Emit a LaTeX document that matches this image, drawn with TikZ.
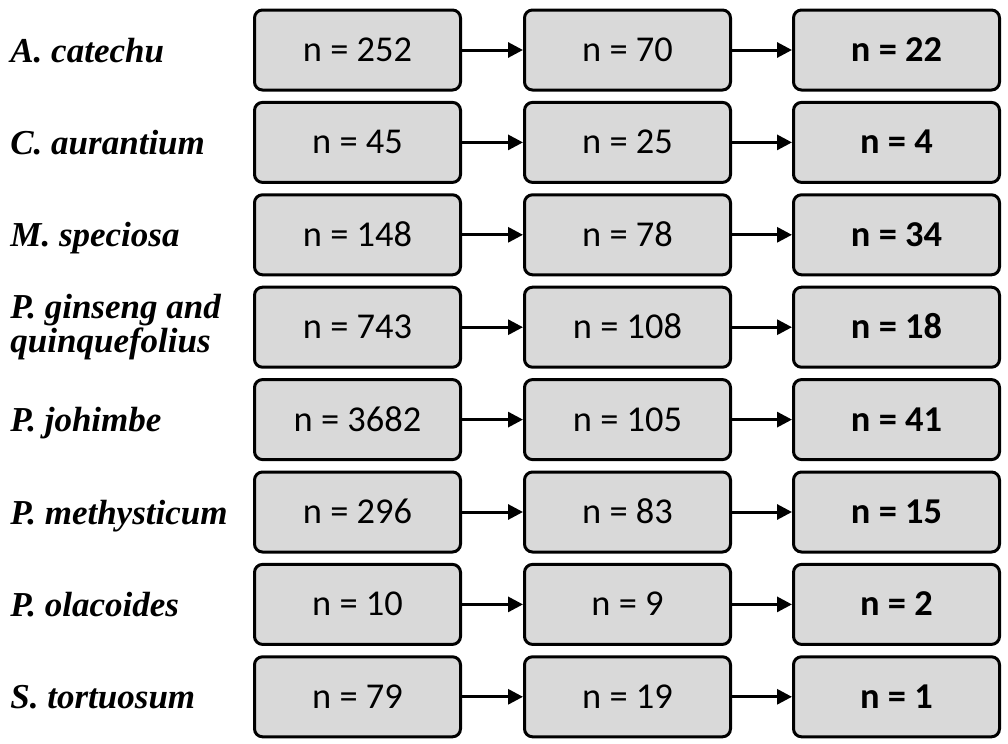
\documentclass[tikz,border=0pt]{standalone}
\usepackage{fontspec}
\setmainfont{Carlito}
\newfontfamily\labelfont{Liberation Serif}
\usepackage{xcolor}
\usetikzlibrary{arrows.meta,positioning}

\definecolor{boxgray}{HTML}{D9D9D9}

\tikzset{
  countbox/.style={draw, line width=1.5pt, rounded corners=4pt, fill=boxgray,
    minimum width=103pt, minimum height=40pt, inner sep=0pt,
    text height=11.5pt, text depth=0pt,
    font=\fontsize{18.2}{20}\selectfont},
  species2/.style={anchor=west, align=left, inner sep=0pt,
    font=\labelfont\bfseries\itshape\fontsize{17.5}{16}\selectfont},
  species/.style={species2, text height=12pt, text depth=0pt},
  flow/.style={line width=1.5pt, -{Triangle[length=7.5pt,width=7.5pt]}}
}

\begin{document}
\begin{tikzpicture}[x=0.5pt,y=-0.5pt]
		\useasboundingbox (0,0) rectangle (1008,744);
		
		% one row per species: raw count -> screened -> included
		\foreach \nm/\st/\na/\nb/\nc [count=\i] in {
			{A. catechu}/species/252/70/22,
			{C. aurantium}/species/45/25/4,
			{M. speciosa}/species/148/78/34,
			{P. ginseng and\\quinquefolius}/species2/743/108/18,
			{P. johimbe}/species/3682/105/41,
			{P. methysticum}/species/296/83/15,
			{P. olacoides}/species/10/9/2,
			{S. tortuosum}/species/79/19/1}
		{
			\pgfmathsetmacro{\ry}{50+92.4*(\i-1)}
			\node[\st] (sp\i) at (10,\ry) {\nm};
			\node[countbox] (a\i) at (357.5,\ry) {n = \na};
			\node[countbox] (b\i) at (627.5,\ry) {n = \nb};
			\node[countbox] (c\i) at (896.5,\ry) {\bfseries n = \nc};
			\draw[flow] (a\i) -- (b\i);
			\draw[flow] (b\i) -- (c\i);
		}
	\end{tikzpicture}
\end{document}
